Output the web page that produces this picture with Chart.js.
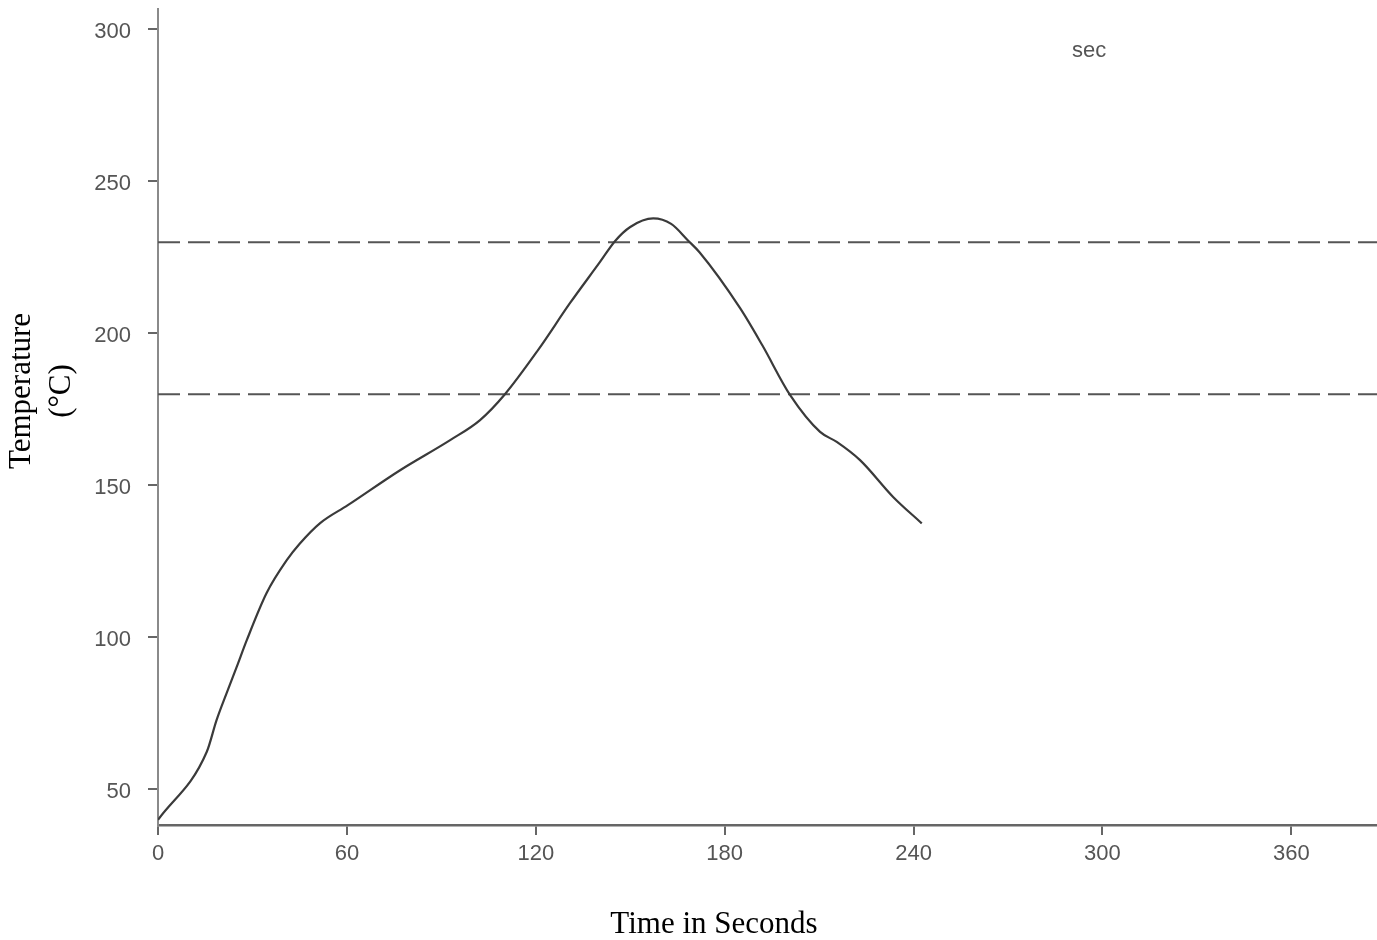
<!DOCTYPE html>
<html>
<head>
<meta charset="utf-8">
<script src="https://cdn.jsdelivr.net/npm/chart.js@4.4.0/dist/chart.umd.min.js"></script>
<style>
  html, body { margin: 0; padding: 0; background: #fff; }
  #wrap { width: 1377px; height: 940px; }
</style>
</head>
<body>
<div id="wrap"><canvas id="tempChart" width="1377" height="940"></canvas></div>
<script>
// reflow profile
const timeSec = [0, 15.5, 18.6, 21.8, 25, 28.2, 34.5, 40.9, 45, 51.5, 60.3, 76.9, 92.8, 102.3, 110.2,
  120.7, 130.9, 140.4, 145.2, 150, 157.3, 163, 168.5, 172, 184.9, 192, 200.8, 210.3, 215.6, 223, 233.5, 242.6];
const tempC = [40, 62.4, 72.8, 81.7, 90.3, 99.1, 114.6, 125.4, 130.8, 137.6, 143.5, 155, 164.9, 171.5, 180,
  194.5, 210, 223.5, 230.4, 235, 237.8, 236, 230.4, 226.7, 208.3, 196, 179.7, 167.6, 164.3, 158.3, 146.2, 137.5];

// dashed limit lines
const refLevels = [230, 180];

const xTicks = [0, 60, 120, 180, 240, 300, 360];
const yTicks = [50, 100, 150, 200, 250, 300];
const xRange = [0, 387.2];
const yRange = [38.3, 306.7];

const xTitle = 'Time in Seconds';
const yTitle = ['Temperature', '(°C)'];
const cornerNote = 'sec';

const tickFont = { family: '"Liberation Sans", Arial, sans-serif', size: 22 };

const datasets = [{
  data: timeSec.map((t, i) => ({ x: t, y: tempC[i] })),
  borderColor: '#3a3a3a',
  borderWidth: 2.2,
  pointRadius: 0,
  fill: false,
  cubicInterpolationMode: 'monotone'
}];
refLevels.forEach(v => {
  datasets.push({
    data: [{ x: xRange[0], y: v }, { x: xRange[1], y: v }],
    borderColor: '#555',
    borderWidth: 2,
    borderDash: [22, 8],
    pointRadius: 0,
    fill: false
  });
});

// axis titles and the stray "sec" note
const titlePlugin = {
  id: 'titlePlugin',
  afterDraw(chart) {
    const ctx = chart.ctx;
    ctx.save();
    ctx.fillStyle = '#555';
    ctx.font = '22px "Liberation Sans", Arial, sans-serif';
    ctx.textAlign = 'left';
    ctx.textBaseline = 'alphabetic';
    ctx.fillText(cornerNote, 1072, 57);

    ctx.fillStyle = '#000';
    ctx.font = '31px "Liberation Serif", "Times New Roman", serif';
    ctx.textAlign = 'center';
    ctx.fillText(xTitle, 714, 933);
    ctx.translate(0, 391);
    ctx.rotate(-Math.PI / 2);
    ctx.fillText(yTitle[0], 0, 30);
    ctx.fillText(yTitle[1], 0, 70);
    ctx.restore();
  }
};

function noPadding(scale) {
  scale.paddingTop = 0;
  scale.paddingBottom = 0;
  scale.paddingLeft = 0;
  scale.paddingRight = 0;
}

new Chart(document.getElementById('tempChart').getContext('2d'), {
  type: 'line',
  data: { datasets: datasets },
  plugins: [titlePlugin],
  options: {
    responsive: false,
    animation: false,
    layout: { padding: { top: 9, left: 0, right: 0, bottom: 0 } },
    plugins: { legend: { display: false }, tooltip: { enabled: false } },
    scales: {
      x: {
        type: 'linear',
        min: xRange[0],
        max: xRange[1],
        afterBuildTicks: s => { s.ticks = xTicks.map(v => ({ value: v })); },
        afterFit: s => { s.height = 115; noPadding(s); },
        border: { display: true, color: '#666', width: 2.5 },
        grid: { drawOnChartArea: false, tickLength: 10, color: '#666', lineWidth: 2 },
        ticks: { font: tickFont, color: '#555', padding: 6, maxRotation: 0, autoSkip: false }
      },
      y: {
        type: 'linear',
        min: yRange[0],
        max: yRange[1],
        afterBuildTicks: s => { s.ticks = yTicks.map(v => ({ value: v })); },
        afterFit: s => { s.width = 158; noPadding(s); },
        border: { display: true, color: '#8a8a8a', width: 2 },
        grid: { drawOnChartArea: false, tickLength: 10, color: '#666', lineWidth: 2 },
        ticks: { font: tickFont, color: '#555', padding: 17, labelOffset: 3, autoSkip: false }
      }
    }
  }
});
</script>
</body>
</html>
